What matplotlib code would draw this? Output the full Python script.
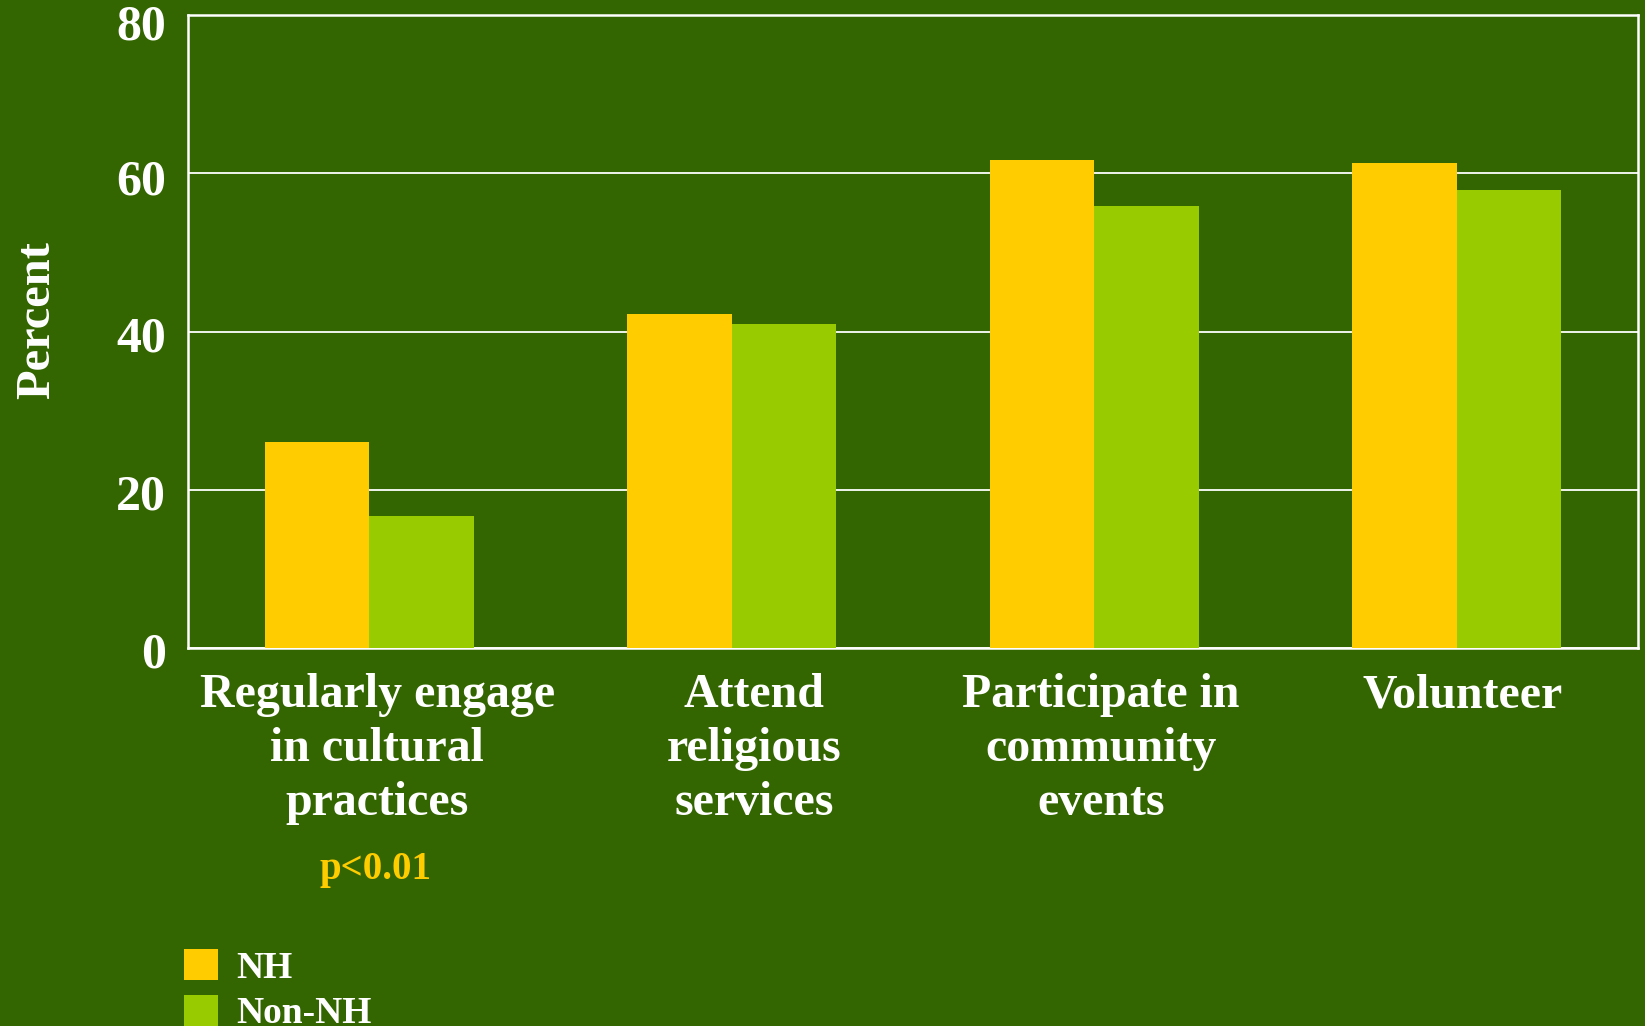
import matplotlib
matplotlib.use("Agg")
import matplotlib.pyplot as plt
import matplotlib.transforms as mtransforms
import numpy as np
from matplotlib.patches import Patch

categories = ["Regularly engage\nin cultural\npractices", "Attend\nreligious\nservices",
              "Participate in\ncommunity\nevents", "Volunteer"]
series_names = ["NH", "Non-NH"]
nh_values = [26.0, 42.2, 61.7, 61.3]
non_nh_values = [16.7, 40.9, 55.9, 57.9]
yticks = [0, 20, 40, 60, 80]
note = "p<0.01"

BG = "#336600"
C_NH = "#FFCC00"
C_NON = "#99CC00"

plt.rcParams['font.family'] = ['Liberation Serif', 'DejaVu Serif']
plt.rcParams['font.weight'] = 'bold'

fig = plt.figure(figsize=(16.45, 10.26), dpi=100, facecolor=BG)
ax = fig.add_axes([188/1645, 1-648/1026, (1638-188)/1645, (648-15)/1026])
ax.set_facecolor(BG)

x = np.arange(len(categories))
w = 0.288
ax.bar(x - w/2, nh_values, w, color=C_NH, zorder=3, label=series_names[0])
ax.bar(x + w/2, non_nh_values, w, color=C_NON, zorder=3, label=series_names[1])

ax.set_xlim(-0.5, len(categories) - 0.5)
ax.set_ylim(0, 80)
ax.set_yticks(yticks)
ax.set_yticklabels([str(v) for v in yticks])
ax.yaxis.grid(True, color="white", linewidth=1.3, zorder=1)
ax.set_axisbelow(True)
for s in ax.spines.values():
    s.set_color("white")
    s.set_linewidth(1.8)

ax.tick_params(axis='y', length=0, pad=16, labelsize=36, labelcolor="white")
ax.tick_params(axis='x', length=0, pad=18, labelsize=34.5, labelcolor="white")
ax.set_xticks(x)
ax.set_xticklabels(categories, linespacing=1.3, fontweight='bold')
for t in ax.get_yticklabels():
    t.set_fontweight('bold')

# small nudges of the tick labels (pixels)
nudges = [8, 22, 7, 6]
for t, dx in zip(ax.get_xticklabels(), nudges):
    t.set_transform(t.get_transform() + mtransforms.Affine2D().translate(dx, 0))
ynudges = [-2, -2, -2, -4, -7]
for t, dy in zip(ax.get_yticklabels(), ynudges):
    t.set_transform(t.get_transform() + mtransforms.Affine2D().translate(0, dy))

ax.set_ylabel("Percent", fontsize=35, color="white", fontweight='bold')
ax.yaxis.set_label_coords(-0.0888, 0.518)

ax.text(x[0], -28, note, transform=ax.transData + mtransforms.Affine2D().translate(6, 0),
        ha='center', va='center', fontsize=28, color=C_NH, fontweight='bold')

handles = [Patch(facecolor=C_NH), Patch(facecolor=C_NON)]
leg = fig.legend(handles, series_names, loc='upper left',
                 bbox_to_anchor=(184/1645, 1-949/1026), frameon=False,
                 fontsize=27, handlelength=0.9, handleheight=0.9,
                 handletextpad=0.5, labelspacing=0.25, borderpad=0, borderaxespad=0)
for t in leg.get_texts():
    t.set_color("white")
    t.set_fontweight('bold')

fig.savefig("out.png", dpi=100, facecolor=BG)
